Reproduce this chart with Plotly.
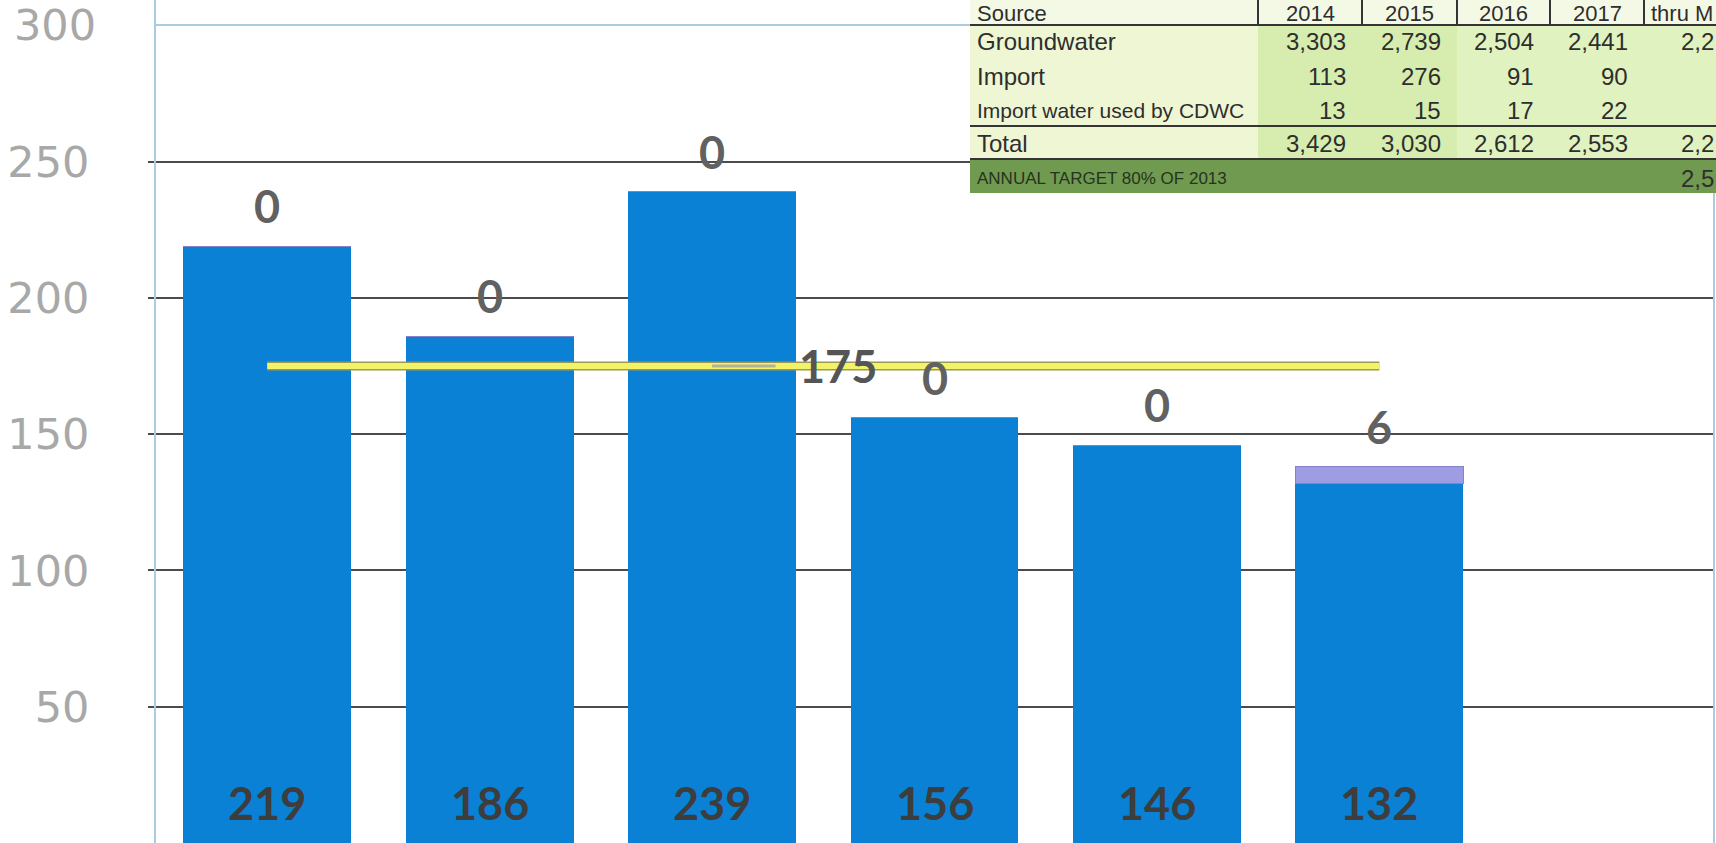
import plotly.graph_objects as go

# ---------------- data ----------------
categories = [0, 1, 2, 3, 4, 5]          # x labels are cropped out of the reference
groundwater = [219, 186, 239, 156, 146, 132]
imported = [0, 0, 0, 0, 0, 6]
target = [175, 175, 175, 175, 175, 175]
target_label_index = 2

y_ticks_dark = [50, 100, 150, 200, 250]
y_ticks_top = [300]

table_header = ["Source", "2014", "2015", "2016", "2017", "thru M"]
row_labels = ["Groundwater", "Import", "Import water used by CDWC", "Total",
              "ANNUAL TARGET 80% OF 2013"]
vals_2014 = ["3,303", "113", "13", "3,429", ""]
vals_2015 = ["2,739", "276", "15", "3,030", ""]
vals_2016 = ["2,504", "91", "17", "2,612", ""]
vals_2017 = ["2,441", "90", "22", "2,553", ""]
vals_thru = ["2,2", "", "", "2,2", "2,5"]

# ---------------- layout constants ----------------
W, H = 1716, 843
ML, MR, MT, MB = 156, 3, 0, 0
PW, PH = W - ML - MR, H - MT - MB
YMAX = 309.3


def px(xp):
    return (xp - ML) / PW


def py(yp):
    return 1 - (yp - MT) / PH


BLUE = "#0a81d4"
PURPLE = "#9e9ce2"

fig = go.Figure()
fig.add_trace(go.Bar(x=categories, y=groundwater, marker=dict(color=BLUE, line=dict(width=0)),
                     showlegend=False, hoverinfo="skip"))
fig.add_trace(go.Bar(x=categories, y=imported, marker=dict(color=PURPLE, line=dict(color="#8583c8", width=1)),
                     showlegend=False, hoverinfo="skip"))
# target line (outline + yellow)
fig.add_trace(go.Scatter(x=categories, y=target, mode="lines",
                         line=dict(color="#9a9a55", width=9), showlegend=False, hoverinfo="skip"))
fig.add_trace(go.Scatter(x=categories, y=target, mode="lines",
                         line=dict(color="#f3f36a", width=6), showlegend=False, hoverinfo="skip"))
# invisible trace to anchor second y axis
fig.add_trace(go.Scatter(x=[categories[0]], y=[y_ticks_top[0]], yaxis="y2", mode="markers",
                         marker=dict(opacity=0), showlegend=False, hoverinfo="skip"))

annotations = []
LABEL_FONT = "Lato"
for i, (c, g, t) in enumerate(zip(categories, groundwater, imported)):
    annotations.append(dict(x=c, y=0, xref="x", yref="y", text=f"<b>{g}</b>", showarrow=False,
                            yanchor="middle", yshift=40,
                            font=dict(family=LABEL_FONT, size=45, color="#3d3d3d")))
    annotations.append(dict(x=c, y=g + t, xref="x", yref="y", text=f"<b>{t}</b>", showarrow=False,
                            yanchor="middle", yshift=40,
                            font=dict(family=LABEL_FONT, size=45, color="#616161")))

annotations.append(dict(x=categories[target_label_index], y=target[target_label_index], xref="x", yref="y",
                        text=f"<b>{target[target_label_index]}</b>", showarrow=True,
                        ax=126, ay=0, arrowhead=0, arrowwidth=3, arrowcolor="#b3b398",
                        standoff=0, startstandoff=22,
                        font=dict(family=LABEL_FONT, size=45, color="#555555")))

# ---------------- table (shapes + text) ----------------
col_edges = [970, 1258, 1362, 1457, 1550, 1644, 1720]
row_edges = [-12, 25, 59, 93, 126, 159, 193]
row_centers = [14, 42, 76, 110, 143, 178]

shapes = []
# header row
shapes.append(dict(type="rect", xref="paper", yref="paper", x0=px(col_edges[0]), x1=px(col_edges[-1]),
                   y0=py(row_edges[1]), y1=py(0), fillcolor="#f4f9e6", line=dict(width=0), layer="above"))
# label column
shapes.append(dict(type="rect", xref="paper", yref="paper", x0=px(col_edges[0]), x1=px(col_edges[1]),
                   y0=py(row_edges[5]), y1=py(row_edges[1]), fillcolor="#eef6d3", line=dict(width=0),
                   layer="above"))
# value columns
shapes.append(dict(type="rect", xref="paper", yref="paper", x0=px(col_edges[1]), x1=px(col_edges[3]),
                   y0=py(row_edges[5]), y1=py(row_edges[1]), fillcolor="#d6edaf", line=dict(width=0),
                   layer="above"))
shapes.append(dict(type="rect", xref="paper", yref="paper", x0=px(col_edges[3]), x1=px(col_edges[-1]),
                   y0=py(row_edges[5]), y1=py(row_edges[1]), fillcolor="#e0f2bf", line=dict(width=0),
                   layer="above"))
# annual target row
shapes.append(dict(type="rect", xref="paper", yref="paper", x0=px(col_edges[0]), x1=px(col_edges[-1]),
                   y0=py(row_edges[6]), y1=py(row_edges[5]), fillcolor="#6f9a4f", line=dict(width=0),
                   layer="above"))
# horizontal rules
for yr in (row_edges[1], row_edges[4], row_edges[5]):
    shapes.append(dict(type="line", xref="paper", yref="paper", x0=px(col_edges[0]), x1=px(col_edges[-1]),
                       y0=py(yr), y1=py(yr), line=dict(color="#353535", width=2), layer="above"))
# header separators
for xc in col_edges[1:-1]:
    shapes.append(dict(type="line", xref="paper", yref="paper", x0=px(xc), x1=px(xc),
                       y0=py(row_edges[1]), y1=py(0), line=dict(color="#353535", width=2), layer="above"))

TFONT = "Liberation Sans"
TCOL = "#2e2e2e"
HSIZE = 22
# header texts
annotations.append(dict(x=px(975), y=py(row_centers[0]), xref="paper", yref="paper", text=table_header[0],
                        xanchor="left", yanchor="middle", showarrow=False,
                        font=dict(family=TFONT, size=HSIZE, color=TCOL)))
for j in range(1, 5):
    annotations.append(dict(x=px((col_edges[j] + col_edges[j + 1]) / 2), y=py(row_centers[0]),
                            xref="paper", yref="paper", text=table_header[j], xanchor="center",
                            yanchor="middle", showarrow=False, font=dict(family=TFONT, size=HSIZE, color=TCOL)))
annotations.append(dict(x=px(1649), y=py(row_centers[0]), xref="paper", yref="paper", text=table_header[5],
                        xanchor="left", yanchor="middle", showarrow=False,
                        font=dict(family=TFONT, size=HSIZE, color=TCOL)))

label_sizes = [24, 24, 21, 24, 17]
for r, lab in enumerate(row_labels):
    annotations.append(dict(x=px(975), y=py(row_centers[r + 1]), xref="paper", yref="paper", text=lab,
                            xanchor="left", yanchor="middle", showarrow=False,
                            font=dict(family=TFONT, size=label_sizes[r],
                                      color="#263320" if r == 4 else TCOL)))

value_cols = [vals_2014, vals_2015, vals_2016, vals_2017]
for j, col in enumerate(value_cols):
    for r, v in enumerate(col):
        if not v:
            continue
        annotations.append(dict(x=px(col_edges[j + 2] - 14), y=py(row_centers[r + 1]), xref="paper",
                                yref="paper", text=v, xanchor="right", yanchor="middle", showarrow=False,
                                font=dict(family=TFONT, size=24, color=TCOL)))
for r, v in enumerate(vals_thru):
    if not v:
        continue
    annotations.append(dict(x=px(1679), y=py(row_centers[r + 1]), xref="paper", yref="paper", text=v,
                            xanchor="left", yanchor="middle", showarrow=False,
                            font=dict(family=TFONT, size=24, color=TCOL)))

TICKFONT = dict(family="DejaVu Sans", size=43, color="#a8a8a8")

fig.update_layout(
    width=W, height=H,
    margin=dict(l=ML, r=MR, t=MT, b=MB, pad=0),
    paper_bgcolor="white", plot_bgcolor="white",
    barmode="stack", bargap=0.245,
    showlegend=False,
    xaxis=dict(range=[-0.5, 6.5], showticklabels=False, showgrid=False, zeroline=False,
               showline=False, ticks=""),
    yaxis=dict(range=[0, YMAX], tickvals=y_ticks_dark, showgrid=True, gridcolor="#4b4b4b", gridwidth=2,
               zeroline=False, showline=True, linecolor="#abcbe0", linewidth=2, mirror=True,
               ticks="outside", ticklen=6, tickwidth=2, tickcolor="#4b4b4b",
               tickfont=TICKFONT, ticklabelstandoff=50),
    yaxis2=dict(range=[0, YMAX], overlaying="y", side="left", tickvals=y_ticks_top, showgrid=True,
                gridcolor="#abcbe0", gridwidth=2, zeroline=False, showline=False, ticks="",
                tickfont=TICKFONT, ticklabelstandoff=59),
    shapes=shapes,
    annotations=annotations,
)

fig.write_html("out.html", config={"displayModeBar": False},
               post_script="document.body.style.margin='0px';document.body.style.overflow='hidden';")
